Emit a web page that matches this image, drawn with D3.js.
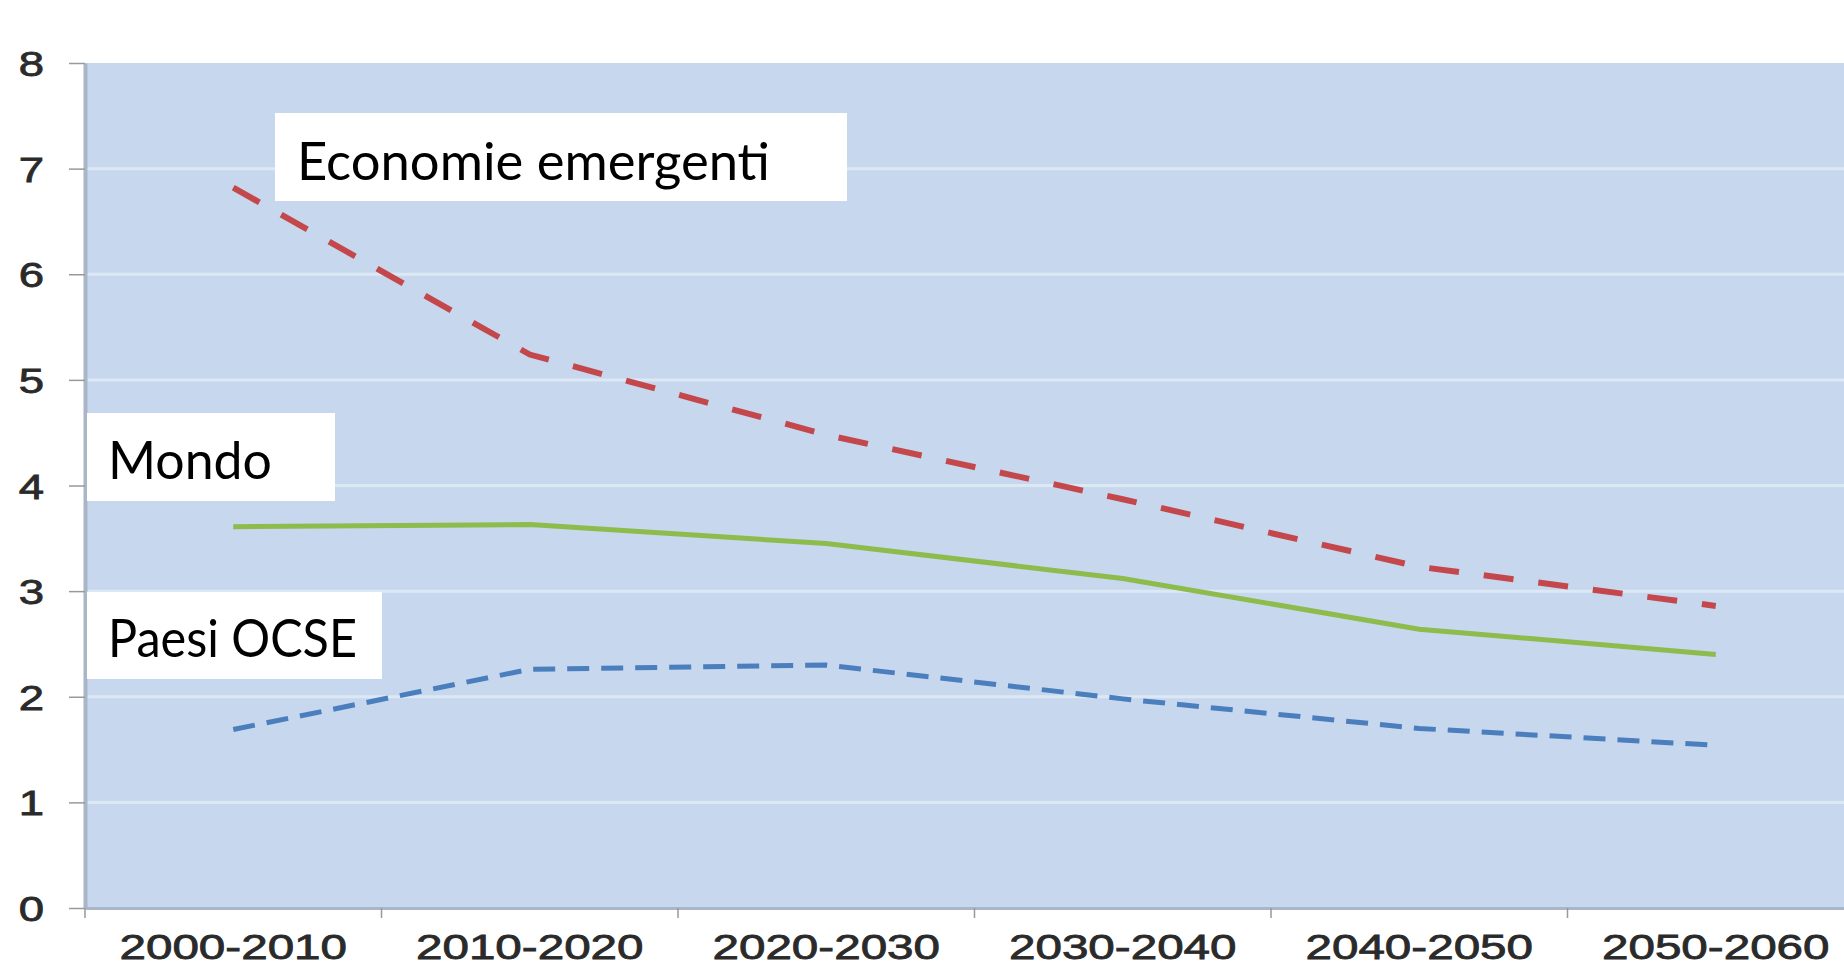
<!DOCTYPE html>
<html>
<head>
<meta charset="utf-8">
<script src="https://cdn.jsdelivr.net/npm/d3@7"></script>
<style>
  body { margin: 0; background: #fff; }
  svg { display: block; }
</style>
</head>
<body>
<div id="content"></div>
<script>
const categories = ["2000-2010", "2010-2020", "2020-2030", "2030-2040", "2040-2050", "2050-2060"];
const economieEmergenti = [6.82, 5.24, 4.48, 3.87, 3.23, 2.86];
const mondo = [3.61, 3.63, 3.45, 3.12, 2.64, 2.40];
const paesiOcse = [1.69, 2.26, 2.30, 1.98, 1.70, 1.54];
const yTicks = [0, 1, 2, 3, 4, 5, 6, 7, 8];

const width = 1844;
const height = 967;
const plotLeft = 85, plotTop = 63, plotBottom = 908;
const band = 296.5;

const svg = d3.select("#content").append("svg")
  .attr("width", width)
  .attr("height", height);

const x = d3.scaleBand()
  .domain(categories)
  .range([plotLeft, plotLeft + band * categories.length])
  .padding(0);

const y = d3.scaleLinear()
  .domain([0, 8])
  .range([plotBottom, plotTop]);

// plot background
svg.append("rect")
  .attr("x", plotLeft)
  .attr("y", plotTop)
  .attr("width", band * categories.length)
  .attr("height", plotBottom - plotTop)
  .attr("fill", "#c6d7ee");

// gridlines
svg.append("g")
  .selectAll("line")
  .data(yTicks.filter((d) => d > 0 && d < 8))
  .enter()
  .append("line")
  .attr("x1", plotLeft)
  .attr("x2", width)
  .attr("y1", (d) => y(d))
  .attr("y2", (d) => y(d))
  .attr("stroke", "#dde8f5")
  .attr("stroke-width", 3);

// y axis
const yAxis = svg.append("g")
  .attr("transform", `translate(${plotLeft},0)`)
  .call(d3.axisLeft(y).tickValues(yTicks).tickSize(16).tickSizeOuter(0));
yAxis.select(".domain").attr("stroke", "#a8b6c8").attr("stroke-width", 4);
yAxis.selectAll(".tick line").attr("stroke", "#999").attr("stroke-width", 1.5);
yAxis.selectAll(".tick text")
  .attr("x", null)
  .attr("dy", "0.36em")
  .attr("transform", "translate(-41,0) scale(1.3,1)")
  .attr("text-anchor", "end")
  .attr("font-family", "Liberation Sans, Arial, sans-serif")
  .attr("font-size", 35)
  .attr("fill", "#2a2a2a")
  .attr("stroke", "#2a2a2a")
  .attr("stroke-width", 0.8);

// x axis
const xAxis = svg.append("g")
  .attr("transform", `translate(0,${plotBottom})`)
  .call(d3.axisBottom(x).tickSize(0).tickSizeOuter(0));
xAxis.select(".domain").attr("stroke", "#a8b6c8").attr("stroke-width", 3);
xAxis.selectAll(".tick text")
  .attr("y", 51)
  .attr("dy", 0)
  .attr("transform", "scale(1.36,1)")
  .attr("font-family", "Liberation Sans, Arial, sans-serif")
  .attr("font-size", 35)
  .attr("fill", "#2a2a2a")
  .attr("stroke", "#2a2a2a")
  .attr("stroke-width", 0.8);

xAxis.selectAll(".sep")
  .data(categories)
  .enter()
  .append("line")
  .attr("class", "sep")
  .attr("x1", (d) => x(d))
  .attr("x2", (d) => x(d))
  .attr("y1", 0)
  .attr("y2", 10)
  .attr("stroke", "#999")
  .attr("stroke-width", 1.5);

// series
const line = d3.line()
  .x((d, i) => x(categories[i]) + x.bandwidth() / 2)
  .y((d) => y(d));

svg.append("path")
  .datum(mondo)
  .attr("d", line)
  .attr("fill", "none")
  .attr("stroke", "#8dbb4c")
  .attr("stroke-width", 5);

svg.append("path")
  .datum(paesiOcse)
  .attr("d", line)
  .attr("fill", "none")
  .attr("stroke", "#4a7ebd")
  .attr("stroke-width", 5)
  .attr("stroke-dasharray", "22,12");

svg.append("path")
  .datum(economieEmergenti)
  .attr("d", line)
  .attr("fill", "none")
  .attr("stroke", "#c4474b")
  .attr("stroke-width", 6)
  .attr("stroke-dasharray", "30,25");

// label boxes
const labels = [
  { text: "Economie emergenti", x: 275, y: 113, w: 572, h: 88, tx: 297, ty: 180, len: 473 },
  { text: "Mondo", x: 87, y: 413, w: 248, h: 88, tx: 108, ty: 479, len: 164 },
  { text: "Paesi OCSE", x: 87, y: 592, w: 295, h: 87, tx: 108, ty: 657, len: 249 },
];

const lab = svg.append("g").selectAll("g")
  .data(labels)
  .enter()
  .append("g");

lab.append("rect")
  .attr("x", (d) => d.x)
  .attr("y", (d) => d.y)
  .attr("width", (d) => d.w)
  .attr("height", (d) => d.h)
  .attr("fill", "#fff");

lab.append("text")
  .attr("x", (d) => d.tx)
  .attr("y", (d) => d.ty)
  .attr("font-family", "Lato, Open Sans, sans-serif")
  .attr("font-size", 52)
  .attr("textLength", (d) => d.len)
  .attr("lengthAdjust", "spacingAndGlyphs")
  .attr("fill", "#000")
  .text((d) => d.text);
</script>
</body>
</html>
